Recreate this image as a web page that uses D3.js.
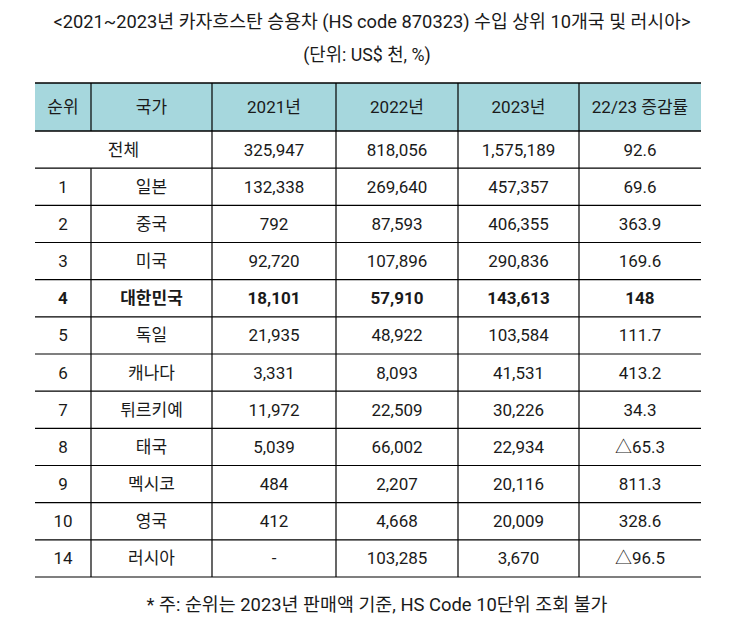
<!DOCTYPE html>
<html><head><meta charset="utf-8">
<script src="https://cdn.jsdelivr.net/npm/d3@7"></script>
<style>
body{margin:0;background:#fff;}
svg{display:block;}
text{font-family:Roboto,"Noto Sans CJK KR",sans-serif;fill:#1a1a1a;}
</style></head><body>
<svg id="c" width="746" height="618"></svg>
<script>
const title = "<2021~2023년 카자흐스탄 승용차 (HS code 870323) 수입 상위 10개국 및 러시아>";
const subtitle = "(단위: US$ 천, %)";
const footnote = "* 주: 순위는 2023년 판매액 기준, HS Code 10단위 조회 불가";
const headers = ["순위", "국가", "2021년", "2022년", "2023년", "22/23 증감률"];
const ranks = ["", "1", "2", "3", "4", "5", "6", "7", "8", "9", "10", "14"];
const countries = ["전체", "일본", "중국", "미국", "대한민국", "독일", "캐나다", "튀르키예", "태국", "멕시코", "영국", "러시아"];
const v2021 = [325947, 132338, 792, 92720, 18101, 21935, 3331, 11972, 5039, 484, 412, null];
const v2022 = [818056, 269640, 87593, 107896, 57910, 48922, 8093, 22509, 66002, 2207, 4668, 103285];
const v2023 = [1575189, 457357, 406355, 290836, 143613, 103584, 41531, 30226, 22934, 20116, 20009, 3670];
const growth = [92.6, 69.6, 363.9, 169.6, 148, 111.7, 413.2, 34.3, -65.3, 811.3, 328.6, -96.5];
const highlight = "대한민국";

const svg = d3.select("#c");
const colEdges = [35, 91, 212, 336, 458, 579, 701];
const headTop = 83, headBot = 131, tableBot = 577;
const y = d3.scaleBand().domain(d3.range(countries.length)).range([headBot, tableBot]);
const colMid = i => (colEdges[i] + colEdges[i + 1]) / 2;
const fmt = d3.format(",");
const fmtNum = v => v == null ? "-" : fmt(v);
const fmtG = v => (v < 0 ? "△" : "") + String(Math.abs(v));

// titles
svg.append("text").attr("x", 372).attr("y", 28).attr("text-anchor", "middle")
  .style("font-size", "18.3px").text(title);
svg.append("text").attr("x", 367).attr("y", 61).attr("text-anchor", "middle")
  .style("font-size", "17.8px").text(subtitle);
svg.append("text").attr("x", 377).attr("y", 611).attr("text-anchor", "middle")
  .style("font-size", "18.4px").text(footnote);

// header
svg.append("rect").attr("x", colEdges[0]).attr("y", headTop)
  .attr("width", colEdges[6] - colEdges[0]).attr("height", headBot - headTop)
  .attr("fill", "#a6d7dd");
svg.selectAll("text.h").data(headers).join("text").attr("class", "h")
  .attr("x", (d, i) => colMid(i)).attr("y", (headTop + headBot) / 2 + 6)
  .attr("text-anchor", "middle").style("font-size", "17px").text(d => d);

// rows
const rows = svg.selectAll("g.row").data(countries).join("g").attr("class", "row")
  .attr("transform", (d, i) => `translate(0,${y(i) + y.bandwidth() / 2 + 6})`)
  .style("font-weight", d => d === highlight ? "bold" : "normal");

rows.each(function (c, i) {
  const g = d3.select(this);
  const cells = i === 0
    ? [{ x: (colEdges[0] + colEdges[2]) / 2, t: c }]
    : [{ x: colMid(0), t: ranks[i] }, { x: colMid(1), t: c }];
  cells.push({ x: colMid(2), t: fmtNum(v2021[i]) },
             { x: colMid(3), t: fmtNum(v2022[i]) },
             { x: colMid(4), t: fmtNum(v2023[i]) },
             { x: colMid(5), t: fmtG(growth[i]) });
  g.selectAll("text").data(cells).join("text")
    .attr("x", d => d.x).attr("text-anchor", "middle")
    .style("font-size", "17px").text(d => d.t);
});

// horizontal lines
const hLines = [headTop, headBot].concat(d3.range(countries.length).map(i => y(i) + y.bandwidth()));
svg.selectAll("line.hl").data(hLines).join("line").attr("class", "hl")
  .attr("x1", colEdges[0]).attr("x2", colEdges[6])
  .attr("y1", d => d).attr("y2", d => d)
  .attr("stroke", "#000").attr("stroke-width", (d, i) => i < 2 ? 1.6 : 1.2);

// vertical lines
const vSegs = [];
colEdges.slice(1, 6).forEach((x, k) => {
  vSegs.push({ x, y1: headTop, y2: headBot });
  countries.forEach((c, i) => {
    if (i === 0 && k === 0) return;
    vSegs.push({ x, y1: y(i), y2: y(i) + y.bandwidth() });
  });
});
svg.selectAll("line.vl").data(vSegs).join("line").attr("class", "vl")
  .attr("x1", d => d.x).attr("x2", d => d.x)
  .attr("y1", d => d.y1).attr("y2", d => d.y2)
  .attr("stroke", "#000").attr("stroke-width", 1.2);
</script>
</body></html>
